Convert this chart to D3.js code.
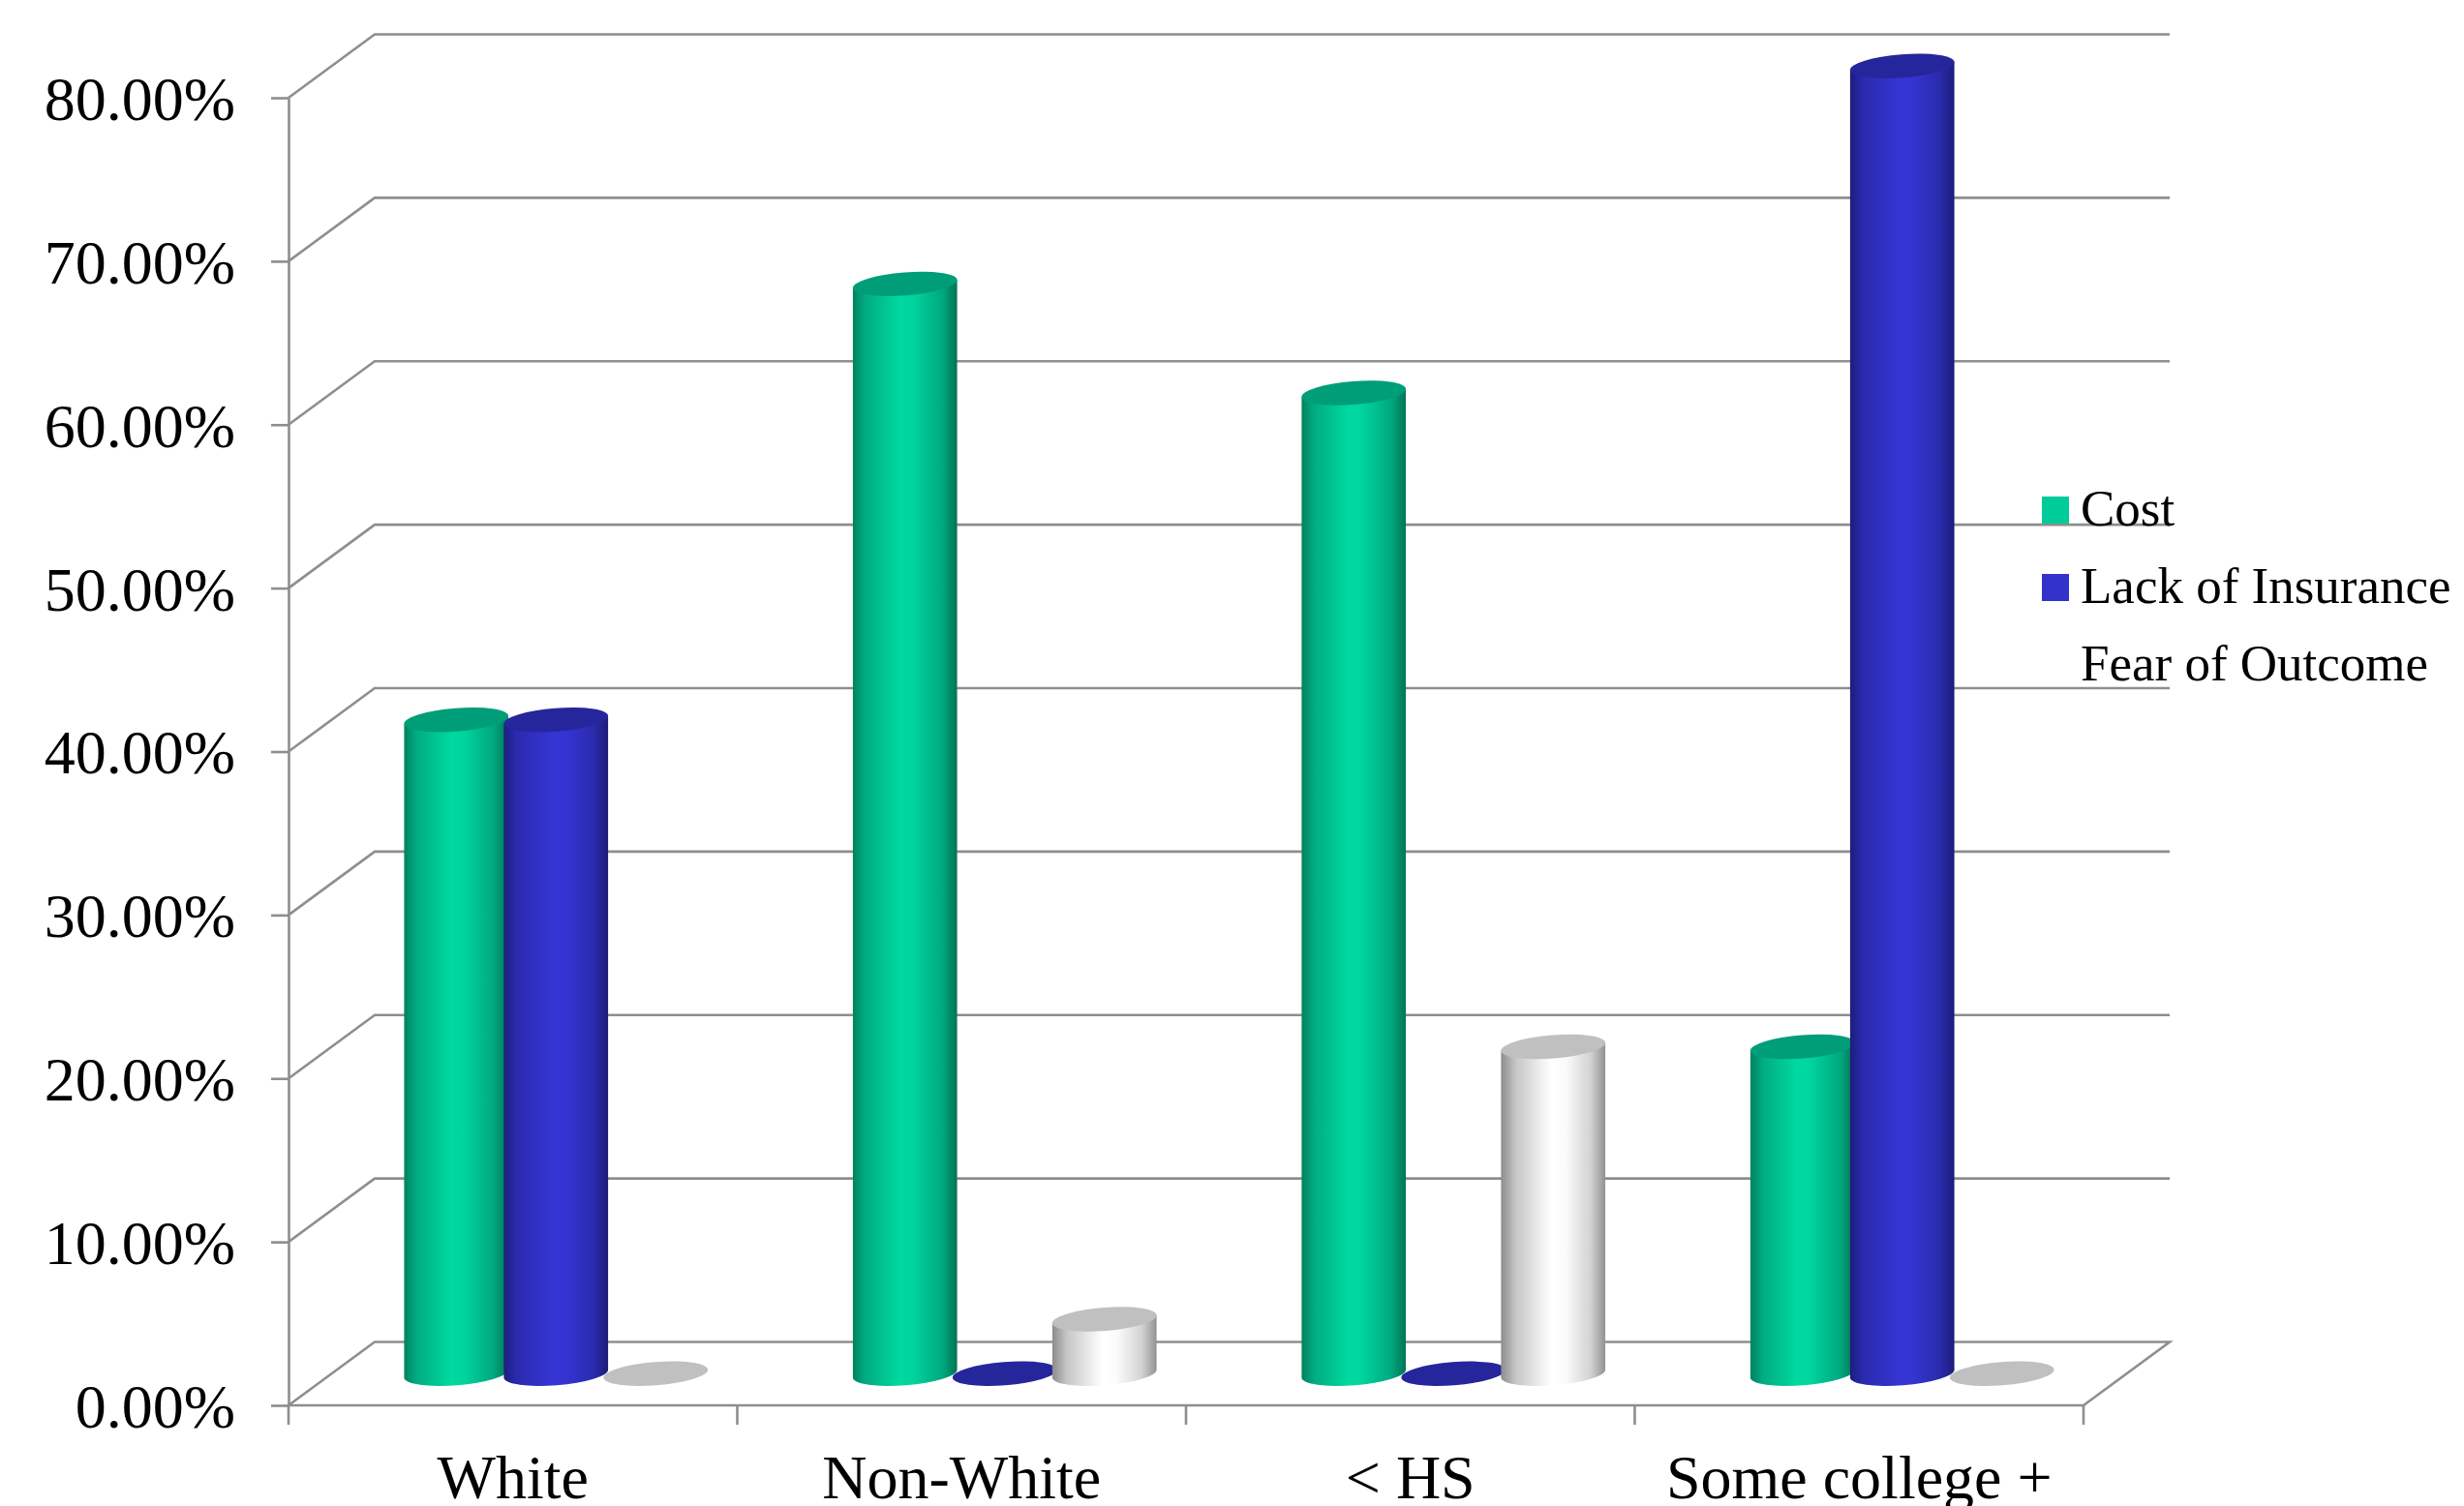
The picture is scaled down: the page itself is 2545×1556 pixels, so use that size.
<!DOCTYPE html>
<html>
<head>
<meta charset="utf-8">
<script src="https://cdn.jsdelivr.net/npm/d3@7"></script>
<style>
  html, body { margin: 0; padding: 0; background: #ffffff; }
  svg { display: block; }
</style>
</head>
<body>
<svg id="chart" width="2545" height="1556"></svg>
<script>
// Reasons for not being screened, by group
const categories = ["White", "Non-White", "< HS", "Some college +"];
const seriesNames = ["Cost", "Lack of Insurance", "Fear of Outcome"];
const costValues = [0.40, 0.6667, 0.60, 0.20];
const lackValues = [0.40, 0.0, 0.0, 0.80];
const fearValues = [0.0, 0.0333, 0.20, 0.0];
const yTickValues = [0, 0.1, 0.2, 0.3, 0.4, 0.5, 0.6, 0.7, 0.8];

const seriesValues = [costValues, lackValues, fearValues];

// Colours per series: legend swatch, cylinder top, body shading stops
const seriesStyle = [
  { swatch: "#00CC99", top: "#009E78",
    stops: [[0, "#00825D"], [0.12, "#00AC81"], [0.45, "#00D9A1"], [0.58, "#00D49E"], [0.86, "#00A87E"], [1, "#007455"]] },
  { swatch: "#3333CC", top: "#26269C",
    stops: [[0, "#1D1D7C"], [0.12, "#2A2AAE"], [0.48, "#3535D5"], [0.6, "#3434D2"], [0.86, "#2B2BAE"], [1, "#1C1C78"]] },
  { swatch: "#FFFFFF", top: "#C0C0C0",
    stops: [[0, "#8C8C8C"], [0.14, "#C6C6C6"], [0.48, "#FFFFFF"], [0.62, "#FBFBFB"], [0.86, "#D2D2D2"], [1, "#929292"]] }
];

const svg = d3.select("#chart");
const FONT = "'Liberation Serif', 'Times New Roman', Times, serif";
const GRID = "#8E8E8E";

// Plot frame: front floor edge and depth offset of the 3D box
const plotLeft = 298, plotRight = 2152;
const depthX = 89, depthY = -65.5;

const x0 = d3.scaleBand().domain(categories).range([plotLeft, plotRight]).padding(0);
const x1 = d3.scaleBand().domain(seriesNames).range([-154.5, 154.5]).padding(0);
const y = d3.scaleLinear().domain([0, 0.8]).range([1452, 101]);

// Gradients for cylinder bodies
const defs = svg.append("defs");
seriesStyle.forEach((s, i) => {
  const g = defs.append("linearGradient")
    .attr("id", "body" + i)
    .attr("x1", "0").attr("y1", "0").attr("x2", "1").attr("y2", "0");
  s.stops.forEach(([o, c]) => g.append("stop").attr("offset", o).attr("stop-color", c));
});

// Back wall, side wall and floor
const grid = svg.append("g")
  .attr("fill", "none")
  .attr("stroke", GRID)
  .attr("stroke-width", 2.6);

yTickValues.filter(v => v > 0).forEach(v => {
  grid.append("path")
    .attr("d", `M${plotLeft},${y(v)}L${plotLeft + depthX},${y(v) + depthY}H${plotRight + depthX}`);
});
grid.append("path")
  .attr("d", `M${plotLeft},${y(0)}L${plotLeft + depthX},${y(0) + depthY}H${plotRight + depthX}` +
             `L${plotRight},${y(0)}Z`);

// Category boundary ticks under the floor
grid.selectAll("line.xtick")
  .data(categories.map(c => x0(c)).concat([plotRight]))
  .join("line")
  .attr("class", "xtick")
  .attr("x1", d => d).attr("x2", d => d)
  .attr("y1", y(0)).attr("y2", y(0) + 20);

// Value axis
const yAxis = d3.axisLeft(y)
  .tickValues(yTickValues)
  .tickFormat(d3.format(".2%"))
  .tickSize(18)
  .tickSizeOuter(0)
  .tickPadding(37);

const yAxisG = svg.append("g")
  .attr("transform", `translate(${plotLeft},0)`)
  .call(yAxis);
yAxisG.select(".domain").attr("stroke", GRID).attr("stroke-width", 2.6);
yAxisG.selectAll(".tick line").attr("stroke", GRID).attr("stroke-width", 2.6);
yAxisG.selectAll(".tick text")
  .attr("font-family", FONT)
  .attr("font-size", 64)
  .attr("fill", "#000")
  .attr("dy", "0.35em");
yAxisG.attr("font-family", FONT).attr("font-size", 64);

// Category labels
svg.append("g")
  .selectAll("text")
  .data(categories)
  .join("text")
  .attr("x", d => x0(d) + x0.bandwidth() / 2)
  .attr("y", 1548)
  .attr("text-anchor", "middle")
  .attr("font-family", FONT)
  .attr("font-size", 64)
  .attr("fill", "#000")
  .text(d => d);

// Cylinders
const rx = 54, ry = 12, tilt = -4.5;
const rad = tilt * Math.PI / 180;
const ex = rx * Math.cos(rad), ey = rx * Math.sin(rad);

const bars = [];
categories.forEach((c, ci) => {
  seriesNames.forEach((s, si) => {
    bars.push({ category: c, series: s, si, value: seriesValues[si][ci] });
  });
});

const barG = svg.append("g");
bars.forEach(b => {
  const cx = x0(b.category) + x0.bandwidth() / 2 + depthX / 2 + x1(b.series) + x1.bandwidth() / 2;
  const yBase = y(0) + depthY / 2;
  const yTop = y(b.value) + depthY / 2;
  const g = barG.append("g");
  if (b.value > 0) {
    g.append("path")
      .attr("d",
        `M${cx - ex},${yTop - ey}` +
        `L${cx - ex},${yBase - ey}` +
        `A${rx},${ry} ${tilt} 0 0 ${cx + ex},${yBase + ey}` +
        `L${cx + ex},${yTop + ey}Z`)
      .attr("fill", `url(#body${b.si})`);
  }
  g.append("ellipse")
    .attr("cx", cx).attr("cy", yTop)
    .attr("rx", rx).attr("ry", ry)
    .attr("transform", `rotate(${tilt} ${cx} ${yTop})`)
    .attr("fill", seriesStyle[b.si].top);
});

// Legend
const legend = svg.append("g").attr("transform", "translate(2109,543)");
const rows = legend.selectAll("g")
  .data(seriesNames)
  .join("g")
  .attr("transform", (d, i) => `translate(0,${i * 80})`);
rows.append("rect")
  .attr("x", 0).attr("y", -30)
  .attr("width", 28).attr("height", 28)
  .attr("fill", (d, i) => seriesStyle[i].swatch);
rows.append("text")
  .attr("x", 40).attr("y", 0)
  .attr("font-family", FONT)
  .attr("font-size", 53)
  .attr("fill", "#000")
  .text(d => d);
</script>
</body>
</html>
